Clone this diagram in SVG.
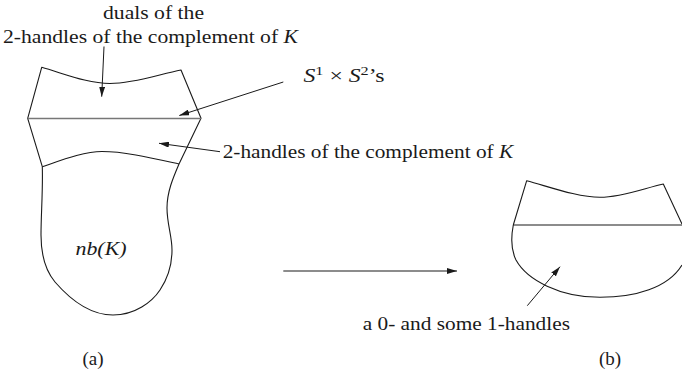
<svg xmlns="http://www.w3.org/2000/svg" width="682" height="374" viewBox="0 0 682 374">
<defs>
<style>
.s{fill:none;stroke:#1a1a1a;stroke-width:1.1;stroke-linejoin:round}
.g{fill:none;stroke:#777;stroke-width:1.6}
.a{fill:none;stroke:#1a1a1a;stroke-width:1;marker-end:url(#ah)}
.ag{fill:none;stroke:#666;stroke-width:1.5;marker-end:url(#ahg)}
.t{font-size:19px;fill:#1a1a1a}
.it{font-style:italic}
</style>
<marker id="ah" viewBox="0 0 10 6" refX="10" refY="3" markerWidth="10" markerHeight="6" markerUnits="userSpaceOnUse" orient="auto">
<path d="M0,0 L10,3 L0,6 Z" fill="#1a1a1a"/>
</marker>
<marker id="ahg" viewBox="0 0 10 6" refX="10" refY="3" markerWidth="10" markerHeight="6" markerUnits="userSpaceOnUse" orient="auto">
<path d="M0,0 L10,3 L0,6 Z" fill="#1a1a1a"/>
</marker>
</defs>
<g id="nodeA" font-family="'Liberation Serif', 'Times New Roman', serif">
<path class="s" d="M41.7,67.3 C65,74 88,83.5 110,83.5 C135,83.5 160,74 181,70 L201,118.3 L179,164 C173,178 167,192 167,208 C167,224 172,236 172,250 C172,262 170,275 160,290 C152,302 135,315 113,315 C88,315 68,297 55,282 C45,270 41,255 41,235 C41,215 43,190 42.3,166.7 L27.7,118.3 Z"/>
<path class="s" d="M42.3,166.7 C62,160 84,151.5 102,151.5 C125,151.5 152,158 179,164"/>
<path class="g" d="M27.7,118.5 L201,118.5"/>
<text class="t it" x="101" y="255" text-anchor="middle" textLength="51" lengthAdjust="spacingAndGlyphs">nb(K)</text>
<text class="t" x="93" y="365" text-anchor="middle">(a)</text>
</g>
<g id="nodeB" font-family="'Liberation Serif', 'Times New Roman', serif">
<path class="s" d="M513.3,225 L526.7,180.7 C550,187 578,197.3 600,197.3 C622,197.3 645,188 663.3,184 L682,224"/>
<path class="s" d="M513.3,225 C511,237 511,250 516,260 C527,280 560,297.3 600,297.3 C635,297.3 668,288 682,265"/>
<path class="s" d="M513.3,225 L682,225"/>
<text class="t" x="610" y="365" text-anchor="middle">(b)</text>
</g>
<g id="labels" font-family="'Liberation Serif', 'Times New Roman', serif">
<text class="t" x="153.5" y="19" text-anchor="middle" textLength="101" lengthAdjust="spacingAndGlyphs">duals of the</text>
<text class="t" x="3" y="43.3" textLength="295" lengthAdjust="spacingAndGlyphs">2-handles of the complement of <tspan class="it">K</tspan></text>
<text class="t" x="303.5" y="82" textLength="81" lengthAdjust="spacingAndGlyphs"><tspan class="it">S</tspan><tspan font-size="13" dy="-7">1</tspan><tspan dy="7"> × </tspan><tspan class="it">S</tspan><tspan font-size="13" dy="-7">2</tspan><tspan dy="7">’s</tspan></text>
<text class="t" x="222.7" y="158.3" textLength="290.5" lengthAdjust="spacingAndGlyphs">2-handles of the complement of <tspan class="it">K</tspan></text>
<text class="t" x="362.7" y="330" textLength="207.3" lengthAdjust="spacingAndGlyphs">a 0- and some 1-handles</text>
</g>
<g id="connectors">
<path class="a" d="M104,46.5 L101.7,96.7"/>
<path class="a" d="M283.3,82 L179.3,115.5"/>
<path class="a" d="M220,151.7 L159,143.3"/>
<path class="ag" d="M283.3,271 L457,271"/>
<path class="a" d="M527.3,305.7 L560,266.7"/>
</g>
</svg>
